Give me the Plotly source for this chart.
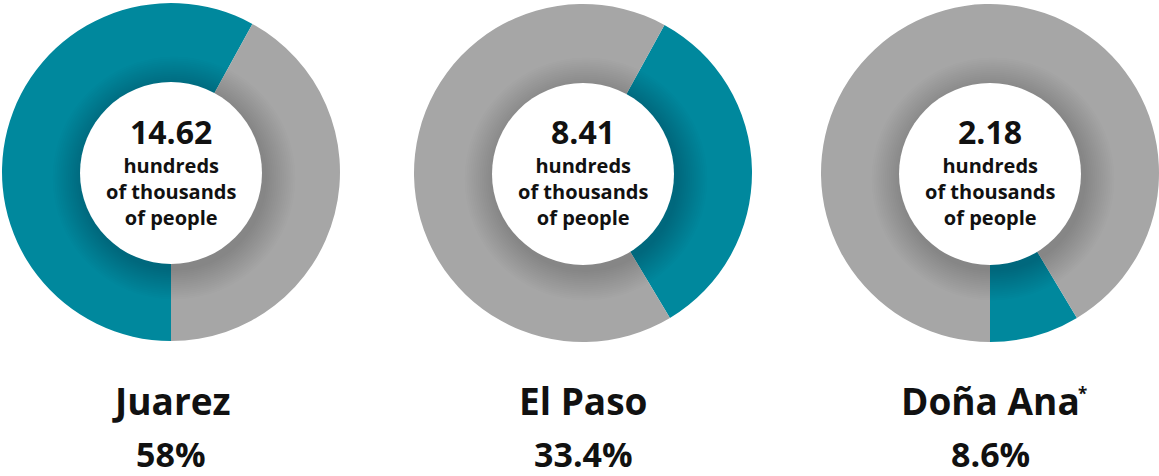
import plotly.graph_objects as go

# ---- data ----
cities = ["Juarez", "El Paso", "Doña Ana"]
city_marks = ["", "", "*"]
shares = [58.0, 33.4, 8.6]
share_labels = ["58%", "33.4%", "8.6%"]
populations = ["14.62", "8.41", "2.18"]
unit_text = "hundreds<br>of thousands<br>of people"

TEAL = "#00889d"
GRAY = "#a6a6a6"

W, H = 1159, 476
centers = [(171, 172), (583, 173), (990, 173)]
R = 169          # outer radius in px
R_IN = 91        # white centre disc radius in px
FONT = "Open Sans"

fig = go.Figure()

start = 180.0  # the three shares form one circle, starting at 6 o'clock
shapes = []
annotations = []


def circ(x, y, r, color):
    return dict(type="circle", xref="paper", yref="paper", layer="above",
                x0=(x - r) / W, x1=(x + r) / W,
                y0=1 - (y + r) / H, y1=1 - (y - r) / H,
                fillcolor=color, line=dict(width=0))


for i, (city, share) in enumerate(zip(cities, shares)):
    cx, cy = centers[i]
    rot = start % 360
    fig.add_trace(go.Pie(
        values=[share, 100 - share],
        marker=dict(colors=[TEAL, GRAY], line=dict(width=0)),
        sort=False, direction="clockwise", rotation=rot,
        textinfo="none", hoverinfo="skip",
        domain=dict(x=[max(0, (cx - R) / W), min(1, (cx + R) / W)],
                    y=[max(0, 1 - (cy + R) / H), min(1, 1 - (cy - R) / H)]),
    ))
    start += share * 3.6

    n = 16
    for k in range(n):
        rr = R_IN + 1.9 * (n - k)
        shapes.append(circ(cx + 3, cy + 6, rr, "rgba(0,0,0,0.010)"))
    shapes.append(circ(cx, cy + 1, R_IN, "white"))

    annotations.append(dict(x=cx / W, y=1 - 131 / H, xref="paper", yref="paper",
                            text=populations[i], showarrow=False,
                            font=dict(family=FONT, size=32, color="#111111", weight="bold"),
                            xanchor="center", yanchor="middle"))
    annotations.append(dict(x=cx / W, y=1 - 191 / H, xref="paper", yref="paper",
                            text=unit_text, showarrow=False,
                            font=dict(family=FONT, size=20, color="#111111", weight="bold"),
                            xanchor="center", yanchor="middle"))
    annotations.append(dict(x=cx / W, y=1 - 400 / H, xref="paper", yref="paper",
                            text=city, showarrow=False,
                            font=dict(family=FONT, size=37, color="#111111", weight="bold"),
                            xanchor="center", yanchor="middle"))
    if city_marks[i]:
        annotations.append(dict(x=(cx + 92) / W, y=1 - 393 / H, xref="paper", yref="paper",
                                text=city_marks[i], showarrow=False,
                                font=dict(family=FONT, size=17, color="#111111", weight="bold"),
                                xanchor="center", yanchor="middle"))
    annotations.append(dict(x=cx / W, y=1 - 454 / H, xref="paper", yref="paper",
                            text=share_labels[i], showarrow=False,
                            font=dict(family=FONT, size=34, color="#111111", weight="bold"),
                            xanchor="center", yanchor="middle"))

fig.update_layout(
    width=W, height=H,
    margin=dict(l=0, r=0, t=0, b=0),
    paper_bgcolor="white", plot_bgcolor="white",
    showlegend=False,
    shapes=shapes,
    annotations=annotations,
)

fig.write_html("out.html",
               config={"displayModeBar": False},
               post_script="document.body.style.margin='0';document.body.style.overflow='hidden';")
